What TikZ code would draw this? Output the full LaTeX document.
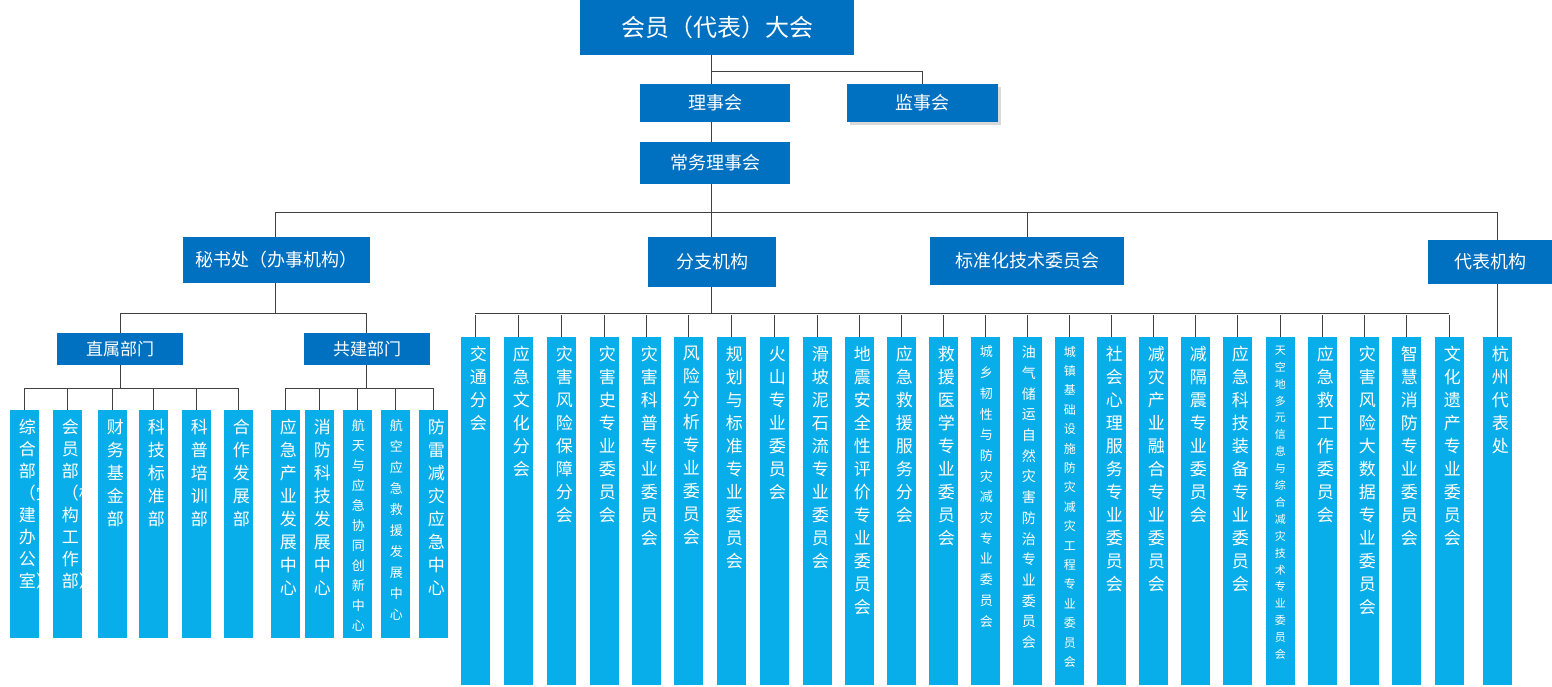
\documentclass[tikz,border=0pt]{standalone}
\usepackage{fontspec}
\usetikzlibrary{shadows}
\setmainfont{Noto Sans CJK SC}
\XeTeXlinebreaklocale "zh"
\XeTeXlinebreakskip=0pt plus 1pt
\definecolor{dk}{HTML}{0070C0}
\definecolor{lt}{HTML}{08AEEA}
\definecolor{ln}{HTML}{404040}
\tikzset{
 db/.style={fill=dk,text=white,inner sep=0pt,font=\fontsize{18}{20}\selectfont},
 lb/.style={fill=lt,inner sep=0pt,minimum width=29pt},
 vt/.style={text=white,inner sep=0pt,align=center,text width=1.05em},
 wire/.style={draw=ln,line width=0.8pt}
}
\newcommand{\vcol}[7]{% name, cx, top, bottom, size, skip, text
 \node[lb,minimum height={#4-#3}] (#1) at (#2,{(#3+#4)/2}) {};
 \node[vt,anchor=north,font=\fontsize{#5}{#6}\selectfont] (#1t) at ([yshift=-9]#1.north) {#7};
 \draw[wire] (#1.north) -- ++(0,-22);
}
\begin{document}
\begin{tikzpicture}[x=1pt,y=-1pt]
\useasboundingbox (0,0) rectangle (1552,687);
% top levels
\node[db,minimum width=274,minimum height=55,font=\fontsize{24}{26}\selectfont] (hy) at (717,27.5) {会员（代表）大会};
\node[db,minimum width=150,minimum height=38] (ls) at (715,103) {理事会};
\node[db,minimum width=151,minimum height=38,drop shadow={opacity=0.3,shadow xshift=3pt,shadow yshift=-3pt}] (js) at (922,103) {监事会};
\node[db,minimum width=150,minimum height=42] (cw) at (715,163) {常务理事会};
\node[db,minimum width=187,minimum height=46] (ms) at (276,260) {秘书处（办事机构）};
\node[db,minimum width=128,minimum height=50] (fz) at (712,262) {分支机构};
\node[db,minimum width=194,minimum height=48] (bz) at (1027,261) {标准化技术委员会};
\node[db,minimum width=124,minimum height=44] (db) at (1490,262) {代表机构};
\node[db,minimum width=126,minimum height=32,font=\fontsize{17}{19}\selectfont] (zs) at (120,349) {直属部门};
\node[db,minimum width=126,minimum height=32,font=\fontsize{17}{19}\selectfont] (gj) at (367,349) {共建部门};
% connectors top
\coordinate (j1) at (711,71);
\draw[wire] (hy.south -| j1) -- (ls.north -| j1);
\draw[wire] (j1) -| (js.north);
\draw[wire] (ls.south -| j1) -- (cw.north -| j1);
\draw[wire] (cw.south -| j1) -- (711,212);
\draw[wire] (275,212) -- (1497,212);
\draw[wire] (275,212) -- (275,237);
\draw[wire] (711,212) -- (711,237);
\draw[wire] (1027,212) -- (bz.north);
\draw[wire] (1497,212) -- (1497,240);
\draw[wire] (275,283) -- (275,313);
\draw[wire] (120,313) -- (366,313);
\draw[wire] (120,313) -- (120,333);
\draw[wire] (366,313) -- (366,333);
\draw[wire] (120,365) -- (120,388) ;
\draw[wire] (24,388) -- (238,388);
\draw[wire] (366,365) -- (366,388);
\draw[wire] (285,388) -- (433,388);
\draw[wire] (711,287) -- (711,313);
\draw[wire] (475,313) -- (1449,313);
\draw[wire] (1497,284) -- (1497,337);
% 直属部门 columns
\vcol{a1}{24}{410}{638}{17}{22}{综合部（党建办公室）}
\vcol{a2}{67}{410}{638}{17}{22}{会员部（机构工作部）}
\vcol{a3}{112}{410}{638}{17}{23}{财务基金部}
\vcol{a4}{153}{410}{638}{17}{23}{科技标准部}
\vcol{a5}{196}{410}{638}{17}{23}{科普培训部}
\vcol{a6}{238}{410}{638}{17}{23}{合作发展部}
% 共建部门 columns
\vcol{b1}{285}{410}{638}{17}{23}{应急产业发展中心}
\vcol{b2}{319}{410}{638}{17}{23}{消防科技发展中心}
\vcol{b3}{357}{410}{638}{13}{20}{航天与应急协同创新中心}
\vcol{b4}{395}{410}{638}{13}{21}{航空应急救援发展中心}
\vcol{b5}{433}{410}{638}{17}{23}{防雷减灾应急中心}
% 分支机构 columns
\foreach \cx/\s/\k/\t [count=\i] in {
475/17/23/交通分会,
518/17/23/应急文化分会,
561/17/23/灾害风险保障分会,
604/17/23/灾害史专业委员会,
646/17/23/灾害科普专业委员会,
688/17/23/风险分析专业委员会,
731/17/23/规划与标准专业委员会,
774/17/23/火山专业委员会,
817/17/23/滑坡泥石流专业委员会,
859/17/23/地震安全性评价专业委员会,
901/17/23/应急救援服务分会,
943/17/23/救援医学专业委员会,
985/13/20.7/城乡韧性与防灾减灾专业委员会,
1027/14/20.7/油气储运自然灾害防治专业委员会,
1069/12/19.4/城镇基础设施防灾减灾工程专业委员会,
1111/17/23/社会心理服务专业委员会,
1153/17/23/减灾产业融合专业委员会,
1195/17/23/减隔震专业委员会,
1237/17/23/应急科技装备专业委员会,
1280/11/16.9/天空地多元信息与综合减灾技术专业委员会,
1322/17/23/应急救工作委员会,
1364/17/23/灾害风险大数据专业委员会,
1406/17/23/智慧消防专业委员会,
1449/17/23/文化遗产专业委员会}
{ \vcol{c\i}{\cx}{337}{685}{\s}{\k}{\t} }
% 代表机构
\node[lb,minimum height=348] (h1) at (1497,511) {};
\node[vt,anchor=north,font=\fontsize{17}{23}\selectfont] (h1t) at ([yshift=-9]h1.north) {杭州代表处};
\end{tikzpicture}
\end{document}
